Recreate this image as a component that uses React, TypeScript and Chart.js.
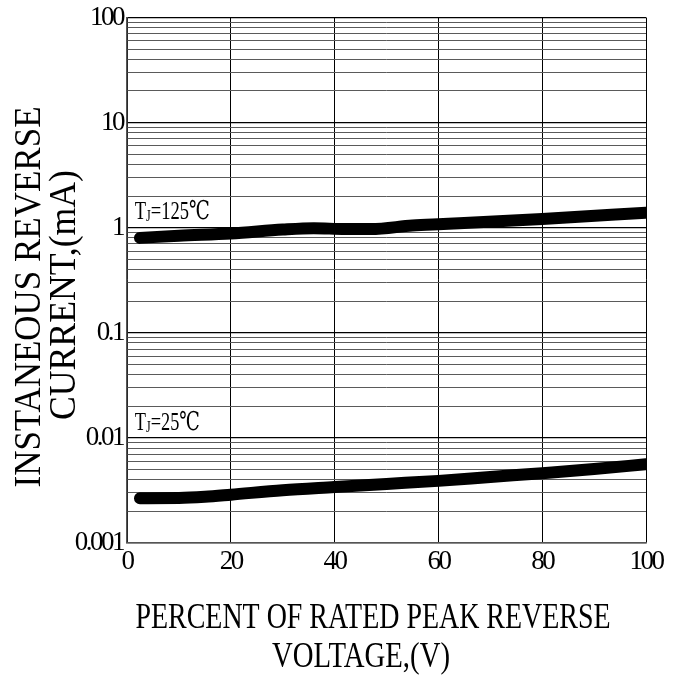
import React, { useEffect, useRef } from "react";
import { Chart, registerables } from "chart.js";

Chart.register(...registerables);

// ---- data ----
const voltage125 = [2.5, 10, 20, 30, 36, 42, 47, 55, 60, 64, 80, 100];
const current125 = [0.8, 0.84, 0.88, 0.96, 0.99, 0.97, 0.97, 1.05, 1.08, 1.1, 1.21, 1.39];
const voltage25 = [2.5, 10, 15, 20, 30, 40, 50, 60, 70, 80, 90, 100];
const current25 = [0.00267, 0.00268, 0.00275, 0.00288, 0.00318, 0.00341, 0.00365, 0.0039, 0.00425, 0.00462, 0.00505, 0.00562];
const xTicks = [0, 20, 40, 60, 80, 100];
const yDecades = [0.001, 0.01, 0.1, 1, 10, 100];
const yTickLabels = ["0.001", "0.01", "0.1", "1", "10", "100"];
const seriesTemps = ["125℃", "25℃"];
const labelAnchorX = [1.5, 1.5];
const labelAnchorY = [1.2, 0.0118];
const xTitleLines = ["PERCENT OF RATED PEAK REVERSE", "VOLTAGE,(V)"];
const yTitleLines = ["INSTANEOUS REVERSE", "CURRENT,(mA)"];

const SERIF = '"Liberation Serif", "DejaVu Serif", serif';

function isDecade(v: number) {
  return yDecades.some((d) => Math.abs(d - v) / d < 1e-6);
}

function drawFitted(
  ctx: CanvasRenderingContext2D,
  text: string,
  cx: number,
  baseline: number,
  width: number,
  size: number,
  rotate: boolean
) {
  ctx.save();
  ctx.letterSpacing = "0px";
  ctx.font = `${size}px ${SERIF}`;
  const w = ctx.measureText(text).width;
  ctx.fillStyle = "#000";
  ctx.textAlign = "center";
  ctx.textBaseline = "alphabetic";
  if (rotate) {
    ctx.translate(baseline, cx);
    ctx.rotate(-Math.PI / 2);
  } else {
    ctx.translate(cx, baseline);
  }
  ctx.scale(width / w, 1);
  ctx.fillText(text, 0, 0);
  ctx.restore();
}

function drawTempLabel(
  ctx: CanvasRenderingContext2D,
  temp: string,
  left: number,
  baseline: number,
  width: number
) {
  const big = `26px ${SERIF}`;
  const small = `17px ${SERIF}`;
  const rest = "=" + temp;
  ctx.save();
  ctx.letterSpacing = "0px";
  ctx.font = big;
  const wT = ctx.measureText("T").width;
  const wR = ctx.measureText(rest).width;
  ctx.font = small;
  const wJ = ctx.measureText("J").width;
  const total = wT + wJ + wR;
  ctx.translate(left, baseline);
  ctx.scale(width / total, 1);
  ctx.fillStyle = "#000";
  ctx.textAlign = "left";
  ctx.textBaseline = "alphabetic";
  ctx.font = big;
  ctx.fillText("T", 0, 0);
  ctx.font = small;
  ctx.fillText("J", wT, 2);
  ctx.font = big;
  ctx.fillText(rest, wT + wJ, 0);
  ctx.restore();
}

const textPlugin = {
  id: "textPlugin",
  beforeDraw(chart: any) {
    const ctx = chart.ctx;
    ctx.save();
    ctx.fillStyle = "#fff";
    ctx.fillRect(0, 0, chart.width, chart.height);
    ctx.restore();
    ctx.letterSpacing = "-2.5px";
  },
  beforeDatasetsDraw(chart: any) {
    chart.ctx.letterSpacing = "0px";
  },
  afterDraw(chart: any) {
    const ctx = chart.ctx as CanvasRenderingContext2D;
    ctx.letterSpacing = "0px";
    const xs = chart.scales.x;
    const ys = chart.scales.y;
    const widths = [75, 65];
    seriesTemps.forEach((t, i) => {
      drawTempLabel(
        ctx,
        t,
        xs.getPixelForValue(labelAnchorX[i]),
        ys.getPixelForValue(labelAnchorY[i]),
        widths[i]
      );
    });
    drawFitted(ctx, xTitleLines[0], 373, 628, 475, 36, false);
    drawFitted(ctx, xTitleLines[1], 361, 667, 178, 36, false);
    drawFitted(ctx, yTitleLines[0], 297, 40, 381, 37, true);
    drawFitted(ctx, yTitleLines[1], 295, 75, 250, 37, true);
  },
};

export default function App() {
  const ref = useRef<HTMLCanvasElement | null>(null);

  useEffect(() => {
    if (!ref.current) return;
    const chart = new Chart(ref.current, {
      type: "line",
      data: {
        datasets: [
          {
            label: "TJ=125℃",
            data: voltage125.map((x, i) => ({ x, y: current125[i] })),
          },
          {
            label: "TJ=25℃",
            data: voltage25.map((x, i) => ({ x, y: current25[i] })),
          },
        ].map((d) => ({
          ...d,
          borderColor: "#000",
          backgroundColor: "#000",
          borderWidth: 12,
          pointRadius: 0,
          borderCapStyle: "round" as const,
          borderJoinStyle: "round" as const,
          cubicInterpolationMode: "monotone" as const,
          fill: false,
        })),
      },
      options: {
        animation: false,
        responsive: false,
        devicePixelRatio: 1,
        layout: { padding: { left: 0, top: 15, right: 39, bottom: 0 } },
        plugins: {
          legend: { display: false },
          tooltip: { enabled: false },
          title: { display: false },
        },
        scales: {
          x: {
            type: "linear",
            min: 0,
            max: 100,
            afterBuildTicks: (s: any) => {
              s.ticks = xTicks.map((v) => ({ value: v }));
            },
            afterFit: (s: any) => {
              s.height = 132;
            },
            ticks: {
              color: "#000",
              padding: 5,
              maxRotation: 0,
              autoSkip: false,
              font: { family: SERIF, size: 27, lineHeight: 1 },
            },
            grid: { color: "#000", lineWidth: 1, drawTicks: false },
            border: { color: "#555", width: 1.5 },
            title: { display: false },
          },
          y: {
            type: "logarithmic",
            min: 0.001,
            max: 100,
            afterBuildTicks: (s: any) => {
              const t: { value: number }[] = [];
              for (let e = -3; e <= 1; e++) {
                for (let m = 1; m <= 9; m++) {
                  t.push({ value: Number((m * Math.pow(10, e)).toPrecision(3)) });
                }
              }
              t.push({ value: 100 });
              s.ticks = t;
            },
            afterFit: (s: any) => {
              s.width = 127;
            },
            ticks: {
              color: "#000",
              padding: 4,
              autoSkip: false,
              font: { family: SERIF, size: 27, lineHeight: 1 },
              callback: (v: any) => {
                const i = yDecades.findIndex((d) => Math.abs(d - Number(v)) / d < 1e-6);
                return i >= 0 ? yTickLabels[i] : "";
              },
            },
            grid: {
              drawTicks: false,
              color: (c: any) => (c.tick && isDecade(c.tick.value) ? "#000" : "#5a5a5a"),
              lineWidth: (c: any) => (c.tick && isDecade(c.tick.value) ? 1.2 : 1),
            },
            border: { color: "#555", width: 1.5 },
            title: { display: false },
          },
        },
      } as any,
      plugins: [textPlugin],
    });
    return () => chart.destroy();
  }, []);

  return (
    <div style={{ position: "fixed", left: 0, top: 0, width: 685, height: 675, background: "#fff" }}>
      <canvas ref={ref} width={685} height={675} style={{ display: "block" }} />
    </div>
  );
}
